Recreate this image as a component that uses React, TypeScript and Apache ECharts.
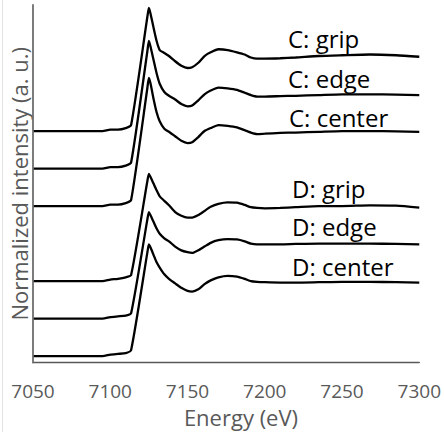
import { useEffect, useRef } from "react";
import * as echarts from "echarts";

// Energy grid (eV)
const energy = [
  7050, 7095, 7100, 7105, 7110, 7113.5, 7124, 7125, 7126, 7128, 7130, 7132, 7135, 7138,
  7142, 7146, 7150, 7153, 7157, 7161, 7165, 7170, 7176, 7182, 7187, 7191, 7195, 7200,
  7210, 7220, 7235, 7250, 7268, 7285, 7300,
];

// Normalized intensities (before vertical offset)
const cGrip = [
  0, 0, 0.02, 0.02, 0.04, 0.08, 1.52, 1.64, 1.57, 1.38, 1.2, 1.08, 1.04, 1.0,
  0.93, 0.87, 0.84, 0.85, 0.91, 1.0, 1.05, 1.09, 1.08, 1.05, 1.02, 0.98, 0.965, 0.965,
  0.97, 0.98, 1.0, 1.01, 1.02, 1.01, 0.99,
];
const cEdge = [
  0, 0, 0.02, 0.02, 0.04, 0.08, 1.56, 1.7, 1.63, 1.45, 1.27, 1.13, 1.02, 0.97,
  0.92, 0.86, 0.83, 0.84, 0.91, 0.99, 1.04, 1.08, 1.07, 1.05, 1.01, 0.98, 0.96, 0.96,
  0.965, 0.97, 0.98, 0.99, 0.99, 0.985, 0.98,
];
const cCenter = [
  0, 0, 0.02, 0.02, 0.04, 0.08, 1.57, 1.71, 1.64, 1.43, 1.25, 1.13, 1.03, 0.99,
  0.93, 0.87, 0.84, 0.85, 0.92, 1.0, 1.04, 1.08, 1.07, 1.05, 1.01, 0.98, 0.96, 0.965,
  0.975, 0.98, 0.99, 1.0, 1.0, 0.995, 0.99,
];
const dGrip = [
  0, 0, 0.02, 0.03, 0.05, 0.08, 1.33, 1.43, 1.39, 1.3, 1.21, 1.13, 1.07, 1.01,
  0.92, 0.87, 0.845, 0.845, 0.88, 0.935, 0.99, 1.03, 1.05, 1.045, 1.015, 0.985, 0.975, 0.97,
  0.975, 0.985, 1.0, 1.0, 1.01, 1.005, 0.98,
];
const dEdge = [
  0, 0, 0.02, 0.03, 0.04, 0.07, 1.32, 1.42, 1.38, 1.29, 1.2, 1.13, 1.07, 1.03,
  0.96, 0.91, 0.885, 0.875, 0.91, 0.96, 1.01, 1.045, 1.06, 1.055, 1.03, 1.0, 0.99, 0.99,
  0.99, 0.995, 1.0, 1.0, 1.0, 0.995, 0.99,
];
const dCenter = [
  0, 0, 0.02, 0.03, 0.04, 0.08, 1.38, 1.49, 1.45, 1.35, 1.25, 1.18, 1.09, 1.03,
  0.97, 0.91, 0.87, 0.86, 0.89, 0.96, 1.01, 1.05, 1.07, 1.06, 1.03, 1.0, 0.99, 0.985,
  0.98, 0.98, 0.985, 0.99, 0.99, 0.985, 0.98,
];

const seriesNames = ["C: grip", "C: edge", "C: center", "D: grip", "D: edge", "D: center"];
const seriesValues = [cGrip, cEdge, cCenter, dGrip, dEdge, dCenter];
const offsets = [3.0, 2.5, 2.0, 1.0, 0.5, 0];

const xMin = 7050;
const xMax = 7300;
const xInterval = 50;
const yMin = -0.085;
const yMax = 4.68;

const xTitle = "Energy (eV)";
const yTitle = "Normalized intensity (a. u.)";

const FONT = '"Open Sans", "Noto Sans", sans-serif';

export default function App() {
  const ref = useRef<HTMLDivElement>(null);

  useEffect(() => {
    if (!ref.current) return;
    const chart = echarts.init(ref.current, undefined, { renderer: "svg" });

    const labelPos: [number, number][] = [
      [288, 38.7],
      [288, 78],
      [289, 117],
      [292, 188],
      [292, 226],
      [292, 266],
    ];

    chart.setOption({
      animation: false,
      backgroundColor: "#ffffff",
      grid: { left: 33, right: 22, top: 5, bottom: 69.5 },
      xAxis: {
        type: "value",
        min: xMin,
        max: xMax,
        interval: xInterval,
        axisLine: { show: true, onZero: false, lineStyle: { color: "#595959", width: 1.3 } },
        axisTick: { show: false },
        splitLine: { show: false },
        axisLabel: {
          color: "#595959",
          fontSize: 19,
          fontFamily: FONT,
          margin: 19,
          formatter: (v: number) => String(v),
        },
      },
      yAxis: {
        type: "value",
        min: yMin,
        max: yMax,
        name: yTitle,
        nameLocation: "middle",
        nameGap: 3,
        nameTextStyle: { color: "#595959", fontSize: 22, fontFamily: FONT },
        axisLine: { show: true, onZero: false, lineStyle: { color: "#6e6e6e", width: 1.8 } },
        axisTick: { show: false },
        axisLabel: { show: false },
        splitLine: { show: false },
        z: 5,
      },
      series: seriesNames.map((name, k) => ({
        name,
        type: "line",
        data: energy.map((e, i) => [e, seriesValues[k][i] + offsets[k]]),
        showSymbol: false,
        symbol: "none",
        smooth: 0.2,
        lineStyle: { color: "#000000", width: 2.3 },
        z: 3,
      })),
      graphic: [
        {
          type: "line",
          shape: { x1: 2.5, y1: 0, x2: 2.5, y2: 432 },
          style: { stroke: "#e3e3e3", lineWidth: 1 },
          silent: true,
        },
        {
          type: "text",
          style: {
            text: xTitle,
            x: 241,
            y: 417,
            fill: "#595959",
            fontSize: 22,
            fontFamily: FONT,
            textAlign: "center",
            textVerticalAlign: "middle",
            align: "center",
            verticalAlign: "middle",
          },
        },
        ...seriesNames.map((name, k) => ({
          type: "text",
          style: {
            text: name,
            x: labelPos[k][0],
            y: labelPos[k][1],
            fill: "#000000",
            fontSize: 24,
            fontFamily: FONT,
            textAlign: "left",
            textVerticalAlign: "middle",
            align: "left",
            verticalAlign: "middle",
          },
        })),
      ],
    });

    return () => chart.dispose();
  }, []);

  return (
    <div
      ref={ref}
      style={{ position: "fixed", left: 0, top: 0, width: 444, height: 432 }}
    />
  );
}
